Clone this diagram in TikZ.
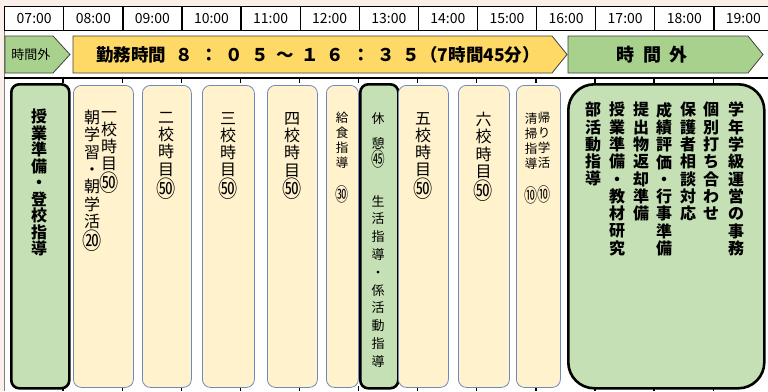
\documentclass[tikz,border=0pt]{standalone}
\usepackage{fontspec}
\setmainfont{Noto Sans CJK JP}
\usetikzlibrary{positioning}
\usepackage{xcolor}
\definecolor{bgpink}{HTML}{FBEFE9}
\definecolor{kinmu}{HTML}{FFD966}
\definecolor{jikangai}{HTML}{A9D18E}
\definecolor{koma}{HTML}{FFF2CC}
\definecolor{komaline}{HTML}{6E89BE}
\definecolor{midori}{HTML}{C5E0B4}
\newcommand{\dgap}{\hspace{7.8pt}}
\newcommand{\maru}[1]{\scalebox{1.2}[1.45]{#1}}
\newcommand{\maruS}[1]{\scalebox{1.05}[1.5]{#1}}

\begin{document}
\begin{tikzpicture}[x=1pt,y=-1pt,
  timecell/.style={draw=black,line width=1.3pt,minimum width=59.1pt,minimum height=24pt,inner sep=0pt,anchor=north west,font=\fontsize{14}{14}\selectfont},
  arrowbox/.style={draw=black!75,line width=0.8pt},
  komabox/.style={draw=komaline,fill=koma,line width=0.8pt,rounded corners=8pt,inner sep=0pt,anchor=north west,minimum height=302pt},
  midoribox/.style={draw=black,fill=midori,line width=2.6pt,rounded corners=8pt,inner sep=0pt,anchor=north west,minimum height=304pt},
  vcol/.style={align=center,inner sep=0pt,anchor=north,execute at begin node=\vphantom{国},font=\fontsize{16}{17.3}\selectfont},
  vsmall/.style={vcol,font=\fontsize{12.5}{15}\selectfont}]
\useasboundingbox (0,0) rectangle (768,391);
\fill[bgpink] (0,0) rectangle (768,391);
\fill[white] (4,6) rectangle (768,391);
\draw[black!50] (4,6)--(4,391);

% time header
\foreach \t [count=\i from 0] in {07,08,09,10,11,12,13,14,15,16,17,18,19}
  \node[timecell] (h\t) at (4+59.1*\i,6) {\t:00};
\draw[line width=1.3pt] (4,78)--(768,78);
\foreach \i in {1,...,12}{
  \draw[line width=1.3pt] (4+59.1*\i,78)--(4+59.1*\i,83);
  \draw[line width=1.3pt] (4+59.1*\i,386)--(4+59.1*\i,391);
}

% arrows
\filldraw[arrowbox,fill=jikangai] (5,36)--(53,36)--(70,54.5)--(53,73)--(5,73)--cycle;
\node[font=\fontsize{13}{13}\selectfont] (gai1) at (31,55) {時間外};
\filldraw[arrowbox,fill=kinmu] (73,36)--(552,36)--(567,54.5)--(552,73)--(73,73)--cycle;
\node[anchor=west,inner sep=0pt,font=\bfseries\fontsize{17.5}{17.5}\selectfont] (kinmu) at (96,54.5)
  {勤務時間\hspace{9pt}８\dgap：\dgap０\dgap５\dgap～\dgap１\dgap６\dgap：\dgap３\dgap５（7時間45分）};
\filldraw[arrowbox,fill=jikangai] (568,36)--(748,36)--(763,54.5)--(748,73)--(568,73)--cycle;
\node[font=\bfseries\fontsize{18}{18}\selectfont] (gai2) at (652,54.5) {時\hspace{8.5pt}間\hspace{8.5pt}外};

% boxes
\node[midoribox,minimum width=58pt] (toko) at (10,83) {};
\node[komabox,minimum width=60pt] (asa) at (73,85) {};
\node[komabox,minimum width=49pt] (ni) at (142,85) {};
\node[komabox,minimum width=52pt] (san) at (202,85) {};
\node[komabox,minimum width=50pt] (yon) at (267,85) {};
\node[komabox,minimum width=32pt] (kyu) at (326,85) {};
\node[midoribox,minimum width=38pt] (kyukei) at (359,83) {};
\node[komabox,minimum width=50pt] (go) at (398,85) {};
\node[komabox,minimum width=51pt] (roku) at (458,85) {};
\node[komabox,minimum width=44pt] (kaeri) at (516,85) {};
\node[midoribox,minimum width=196pt,rounded corners=26pt] (hoka) at (567,83) {};

% texts
\node[vcol,font=\bfseries\fontsize{16}{16.5}\selectfont] (toko1) at (39,109) {授\\業\\準\\備\\・\\登\\校\\指\\導};
\node[vcol] (asa1) at (109,111) {一\\校\\時\\目\\\maru{㊿}};
\node[vcol] (asa2) at (92,110) {朝\\学\\習\\・\\朝\\学\\活\\\maru{⑳}};
\node[vcol] (ni1) at (166,112) {二\\校\\時\\目\\\maru{㊿}};
\node[vcol] (san1) at (228,112) {三\\校\\時\\目\\\maru{㊿}};
\node[vcol] (yon1) at (292,112) {四\\校\\時\\目\\\maru{㊿}};
\node[vsmall] (kyu1) at (342,112) {給\\食\\指\\導\\[16pt]\maruS{㉚}};
\node[vsmall,font=\fontsize{13}{15}\selectfont] (kyukei1) at (378,112) {休\\[10pt]憩\\\maruS{㊺}};
\node[vsmall,font=\fontsize{13}{17.8}\selectfont] (kyukei2) at (378,195) {生\\活\\指\\導\\・\\係\\活\\動\\指\\導};
\node[vcol] (go1) at (423,112) {五\\校\\時\\目\\\maru{㊿}};
\node[vcol] (roku1) at (483.5,112) {六\\校\\時\\目\\\maru{㊿}};
\node[vsmall] (kaeri1) at (544,112) {帰\\り\\学\\活\\[16pt]\maruS{⑩}};
\node[vsmall] (kaeri2) at (531,113) {清\\掃\\指\\導\\[16pt]\maruS{⑩}};

\foreach \x/\txt [count=\k] in {736/{学\\年\\学\\級\\運\\営\\の\\事\\務},711/{個\\別\\打\\ち\\合\\わ\\せ},688/{保\\護\\者\\相\\談\\対\\応},664/{成\\績\\評\\価\\・\\行\\事\\準\\備},641/{提\\出\\物\\返\\却\\準\\備},617/{授\\業\\準\\備\\・\\教\\材\\研\\究},593/{部\\活\\動\\指\\導}}
  \node[vcol,font=\bfseries\fontsize{16}{17.3}\selectfont] (hoka\k) at (\x,102) {\txt};

\end{tikzpicture}
\end{document}
